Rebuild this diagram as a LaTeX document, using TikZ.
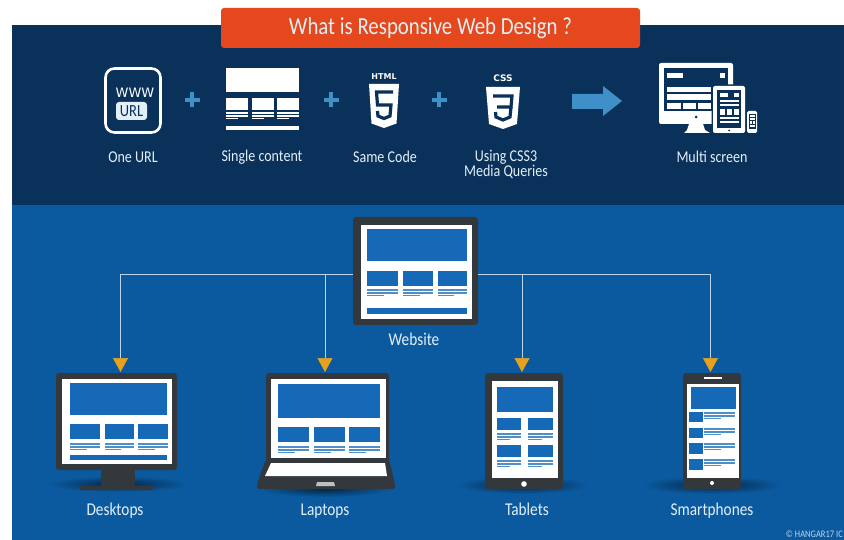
\documentclass[tikz,border=0pt]{standalone}
\usepackage{fontspec}
\setmainfont[FakeStretch=0.85]{Carlito}
\newfontfamily\iconfont{DejaVu Sans}
\usetikzlibrary{arrows.meta}
\definecolor{bgtop}{HTML}{0A3159}
\definecolor{bgbot}{HTML}{0B5A9F}
\definecolor{titlered}{HTML}{E5481C}
\definecolor{scr}{HTML}{1569B7}
\definecolor{devdark}{HTML}{33383D}
\definecolor{lineblue}{HTML}{4F8FC7}
\definecolor{plusblue}{HTML}{3F8FC8}
\definecolor{connc}{HTML}{BBD5E8}
\definecolor{tipc}{HTML}{E6A21F}
\definecolor{labelc}{HTML}{E3EFF7}
\definecolor{shadowc}{HTML}{052644}
\newcommand\Rct[5]{\fill[#1] (#2,#3) rectangle (#4,#5);}
\newcommand\TxtLines[4]{%
  \fill[#1] (#2,#4) rectangle (#3,#4+2);
  \fill[#1] (#2,#4+2.8) rectangle (#3,#4+4.8);
  \fill[#1] (#2,#4+5.6) rectangle ({#2+0.55*(#3-#2)},#4+6.8);}
\newcommand\ShadowAt[4]{\shade[inner color=shadowc,outer color=bgbot] (#1,#2) ellipse (#3 and #4);}
\newcommand\PlusAt[2]{\fill[plusblue] (#1-7.5,#2-1.7) rectangle (#1+7.5,#2+1.7);\fill[plusblue] (#1-1.7,#2-7.5) rectangle (#1+1.7,#2+7.5);}
\tikzset{
  lbl/.style={text=labelc,font=\fontsize{18}{18}\selectfont,inner sep=0pt,align=center,text height=11,text depth=3},
  toplbl/.style={text=labelc,font=\fontsize{16.5}{14}\selectfont,inner sep=0pt,align=center},
  device/.style={fill=devdark,rounded corners=3,inner sep=0pt},
  conn/.style={draw=connc,line width=0.7},
  tipped/.style={conn,-{Triangle[color=tipc,width=15,length=14]}},
  shield/.style={fill=white},
  glyph/.style={draw=bgtop,line width=3.2,line join=miter}
}
\begin{document}
\begin{tikzpicture}[x=1pt,y=-1pt]
\useasboundingbox (0,0) rectangle (844,540);
\fill[white] (0,0) rectangle (844,540);
\Rct{bgtop}{12}{25}{844}{205}
\Rct{bgbot}{12}{205}{844}{540}

% title
\node[fill=titlered,rounded corners=3,minimum width=419,minimum height=40,inner sep=0pt,text=labelc,font=\fontsize{24.5}{24}\selectfont] (title) at (430.5,28) {What is Responsive Web Design ?};

% One URL icon
\node[draw=white,line width=2.6,rounded corners=9,minimum width=55,minimum height=64,inner sep=0pt] (urlicon) at (133,100.5) {};
\node[text=white,inner sep=0pt,font=\iconfont\fontsize{13}{13}\selectfont] (www) at (135,92.5) {WWW};
\node[fill=labelc,rounded corners=3,minimum width=31,minimum height=18,inner sep=0pt,text=bgtop,font=\fontsize{17}{17}\selectfont] (urlbox) at (131.5,111) {URL};
\node[toplbl] (l1) at (133,157) {One URL};

\PlusAt{192}{100}
\PlusAt{331}{100}
\PlusAt{439}{100}

% Single content
\Rct{white}{226}{68}{299}{92}
\Rct{white}{226}{98}{248}{110}
\Rct{white}{252}{98}{274}{110}
\Rct{white}{277}{98}{299}{110}
\TxtLines{white}{226}{248}{112.5}
\TxtLines{white}{252}{274}{112.5}
\TxtLines{white}{277}{299}{112.5}
\Rct{white}{226}{126}{299}{130}
\node[toplbl] (l2) at (262,157) {Single content};

% HTML5
\node[text=white,inner sep=0pt,font=\iconfont\bfseries\fontsize{8}{8}\selectfont] (htmlt) at (384,77) {HTML};
\fill[shield] (369,84) -- (399,84) -- (396.5,123.5) -- (384,128) -- (371.5,123.5) -- cycle;
\draw[glyph] (393,92) -- (376.5,92) -- (377.5,105) -- (391,105) -- (390,116) -- (384,118.5) -- (378,116) -- (377.5,111);
\node[toplbl] (l3) at (385,157) {Same Code};

% CSS3
\node[text=white,inner sep=0pt,font=\iconfont\bfseries\fontsize{9}{9}\selectfont] (csst) at (503,78) {CSS};
\fill[shield] (486,87) -- (520,87) -- (517,124) -- (503,129) -- (489,124) -- cycle;
\draw[glyph] (493,96) -- (512,96) -- (511,107) -- (497,107);
\draw[glyph] (511,107) -- (510,117) -- (503,120) -- (496,117) -- (495.5,112);
\node[toplbl] (l4) at (506,164.5) {Using CSS3\\[-0.5pt]Media Queries};

% big arrow
\fill[plusblue] (572,94) -- (603,94) -- (603,86) -- (622,101) -- (603,116) -- (603,109) -- (572,109) -- cycle;

% Multi screen icon
\fill[white,rounded corners=2] (659,63) rectangle (733,124);
\fill[white] (689,124) -- (703,124) -- (705,130) -- (710,133) -- (684,133) -- (687,130) -- cycle;
\Rct{bgtop}{664}{68}{728}{111}
\Rct{white}{667}{73}{683}{78}
\Rct{white}{720}{73}{725}{78}
\Rct{white}{667}{87}{711}{92}
\Rct{white}{667}{94.5}{711}{100}
\Rct{white}{667}{103}{681}{109}
\Rct{white}{683}{103}{696}{109}
\Rct{white}{698}{103}{711}{109}
\fill[bgtop] (696,117) circle (1.5);
\fill[bgtop,rounded corners=2] (711.5,84.5) rectangle (746.5,134);
\fill[white,rounded corners=2] (713,86) rectangle (745,133);
\Rct{bgtop}{717}{90}{741}{128}
\Rct{white}{720}{93}{728}{97}
\Rct{white}{734}{93}{739}{97}
\Rct{white}{720}{100}{739}{102}
\Rct{white}{720}{104}{739}{106}
\Rct{white}{720}{109}{725}{115}
\Rct{white}{727}{109}{732}{115}
\Rct{white}{734}{109}{739}{115}
\Rct{white}{720}{117}{739}{119}
\Rct{white}{720}{121}{739}{123}
\fill[bgtop] (729,130.5) circle (1);
\fill[white,rounded corners=1.5] (747,111) rectangle (757,133);
\Rct{bgtop}{748.5}{114}{755.5}{129}
\Rct{white}{749.5}{115.5}{754.5}{117}
\Rct{white}{749.5}{118.5}{754.5}{120}
\Rct{white}{749.5}{121.5}{751.5}{124}
\Rct{white}{752.5}{121.5}{754.5}{124}
\Rct{white}{749.5}{125.5}{754.5}{127}
\node[toplbl] (l5) at (712,157) {Multi screen};

% shadows
\ShadowAt{118}{484}{70}{8}
\ShadowAt{325}{489}{66}{8}
\ShadowAt{523}{485}{66}{9}
\ShadowAt{712}{485}{70}{9}

% Website
\node[device,minimum width=125,minimum height=108] (web) at (415.5,271) {};
\Rct{white}{361}{225}{472}{319}
\Rct{scr}{367}{229}{467}{261}
\Rct{scr}{367}{271}{398}{286}
\Rct{scr}{403}{271}{433}{286}
\Rct{scr}{438}{271}{467}{286}
\TxtLines{lineblue}{367}{398}{289}
\TxtLines{lineblue}{403}{433}{289}
\TxtLines{lineblue}{438}{467}{289}
\Rct{scr}{367}{308}{467}{314}
\node[lbl] (lweb) at (414,341.5) {Website};

% Desktop
\Rct{devdark}{101}{468}{135}{487}
\fill[devdark,rounded corners=1] (80,486) rectangle (153,490);
\node[device,minimum width=121,minimum height=97] (desk) at (116.5,421.5) {};
\Rct{white}{62}{379}{172}{464}
\Rct{scr}{70}{383}{167}{415}
\Rct{scr}{70}{424}{100}{439}
\Rct{scr}{105}{424}{134}{439}
\Rct{scr}{138}{424}{168}{439}
\TxtLines{lineblue}{70}{100}{443}
\TxtLines{lineblue}{105}{134}{443}
\TxtLines{lineblue}{138}{168}{443}
\Rct{scr}{70}{455}{167}{459.5}
\node[lbl] (ldesk) at (115,511) {Desktops};

% Laptop
\fill[devdark,rounded corners=2] (266,459) -- (389,459) -- (395,484) -- (395,489) -- (257,489) -- (257,484) -- cycle;
\node[device,minimum width=123,minimum height=90] (lap) at (327.5,418) {};
\Rct{white}{271}{379}{386}{458}
\Rct{scr}{278}{384}{380}{418}
\Rct{scr}{278}{427}{309}{442}
\Rct{scr}{314}{427}{345}{442}
\Rct{scr}{349}{427}{380}{442}
\TxtLines{lineblue}{278}{309}{446}
\TxtLines{lineblue}{314}{345}{446}
\TxtLines{lineblue}{349}{380}{446}
\fill[white] (271,463) -- (385,463) -- (387,476) -- (265,476) -- cycle;
\fill[lightgray] (317,482) -- (334,482) -- (335,486) -- (316,486) -- cycle;
\node[lbl] (llap) at (325,511) {Laptops};

% Tablet
\node[device,minimum width=78,minimum height=116] (tab) at (524,431) {};
\Rct{white}{492}{381}{558}{478}
\Rct{scr}{497}{387}{553}{412}
\Rct{scr}{497}{418}{521}{430}
\Rct{scr}{528}{418}{553}{430}
\TxtLines{lineblue}{497}{521}{433}
\TxtLines{lineblue}{528}{553}{433}
\Rct{scr}{497}{445}{521}{457}
\Rct{scr}{528}{445}{553}{457}
\TxtLines{lineblue}{497}{521}{460}
\TxtLines{lineblue}{528}{553}{460}
\fill[white] (524,484) circle (2.8);
\node[lbl] (ltab) at (527,511) {Tablets};

% Phone
\node[device,minimum width=58,minimum height=116] (phone) at (712,431) {};
\Rct{white}{687}{384}{739}{478}
\Rct{white}{704}{377.3}{722}{378.7}
\Rct{scr}{691}{387}{736}{409}
\Rct{scr}{689}{412}{703}{422}
\Rct{scr}{689}{428}{703}{438}
\Rct{scr}{689}{443}{703}{454}
\Rct{scr}{689}{459}{703}{470}
\TxtLines{lineblue}{704}{735}{412}
\TxtLines{lineblue}{704}{735}{428}
\TxtLines{lineblue}{704}{735}{443}
\TxtLines{lineblue}{704}{735}{459}
\fill[white] (712,483) circle (2);
\node[lbl] (lphone) at (712,511) {Smartphones};

% connectors
\coordinate (webL) at (web.west |- 0,274);
\coordinate (webR) at (web.east |- 0,274);
\coordinate (tipD) at (120.5,372);
\coordinate (tipL) at (325,372);
\coordinate (tipT) at (522,372);
\coordinate (tipP) at (710.5,372);
\draw[tipped] (webL) -| (tipD);
\draw[tipped] (webL) -| (tipL);
\draw[tipped] (webR) -| (tipT);
\draw[tipped] (webR) -| (tipP);

\node[anchor=east,inner sep=0pt,text=connc,font=\fontsize{10}{10}\selectfont] (copy) at (843,534.5) {© HANGAR17 IC};
\end{tikzpicture}
\end{document}
